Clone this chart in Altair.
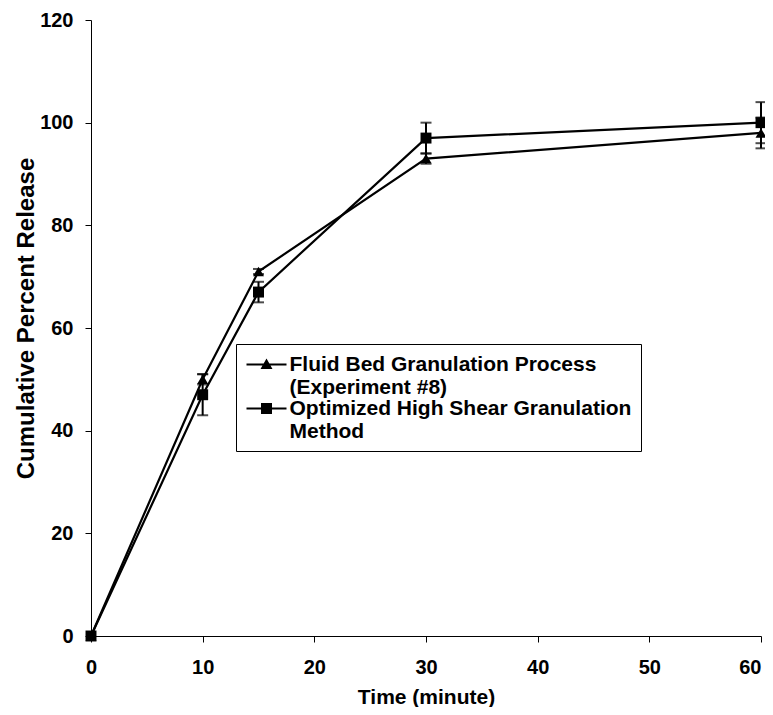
import altair as alt
import pandas as pd

time = [0, 10, 15, 30, 60]
fluid = [0, 50, 71, 93, 98]
fluid_err = [0, 1, 0.5, 1, 3]
shear = [0, 47, 67, 97, 100]
shear_err = [0, 4, 2, 3, 4]
series_names = ["Fluid Bed Granulation Process|(Experiment #8)",
                "Optimized High Shear Granulation|Method"]

rows = []
for t, v, e in zip(time, fluid, fluid_err):
    rows.append({"t": t, "v": v, "lo": v - e, "hi": v + e, "e": e, "s": series_names[0]})
for t, v, e in zip(time, shear, shear_err):
    rows.append({"t": t, "v": v, "lo": v - e, "hi": v + e, "e": e, "s": series_names[1]})
df = pd.DataFrame(rows)

FONT = "Liberation Sans"

x = alt.X("t:Q", scale=alt.Scale(domain=[0, 60], nice=False),
          axis=alt.Axis(values=[0, 10, 20, 30, 40, 50, 60], title="Time (minute)",
                        labelFlush=False,
                        labelAlign={"condition": {"test": "datum.value == 60", "value": "right"},
                                    "value": "center"}))
y = alt.Y("v:Q", scale=alt.Scale(domain=[0, 120], nice=False),
          axis=alt.Axis(values=[0, 20, 40, 60, 80, 100, 120], title="Cumulative Percent Release",
                        titleY=298))

base = alt.Chart(df)

lines = base.mark_line(color="black", strokeWidth=2.2).encode(
    x=x, y=y, detail="s:N")

err = base.transform_filter("datum.e > 0")
rules = err.mark_rule(color="black", strokeWidth=2).encode(
    x="t:Q", y="lo:Q", y2="hi:Q")
caps_hi = err.mark_tick(color="black", orient="horizontal", size=11, thickness=2).encode(
    x="t:Q", y="hi:Q")
caps_lo = err.mark_tick(color="black", orient="horizontal", size=11, thickness=2).encode(
    x="t:Q", y="lo:Q")

points = base.mark_point(filled=True, color="black", size=120, opacity=1).encode(
    x="t:Q", y="v:Q",
    shape=alt.Shape("s:N", scale=alt.Scale(domain=series_names, range=["triangle-up", "square"]),
                    legend=None))

tri_path = "M-1,-0.1H3V0.1H-1ZM0.4,0.45L1,-0.6L1.6,0.45Z"
sq_path = "M-1,-0.1H3V0.1H-1ZM0.45,-0.55H1.55V0.55H0.45Z"

legend_layer = base.transform_filter("false").mark_point(
    filled=True, color="black", opacity=1).encode(
    x="t:Q", y="v:Q",
    shape=alt.Shape("s:N", scale=alt.Scale(domain=series_names, range=[tri_path, sq_path]),
                    legend=alt.Legend(
                        title=None, orient="none", legendX=145, legendY=324,
                        labelExpr="split(datum.label, '|')",
                        labelFont=FONT, labelFontSize=21, labelFontWeight="bold",
                        labelColor="black", labelLimit=500, labelOffset=22,
                        symbolSize=400, symbolFillColor="black",
                        symbolOpacity=1,
                        strokeColor="black", padding=9.5, rowPadding=0,
                        fillColor="white")))

chart = alt.layer(lines, rules, caps_hi, caps_lo, points, legend_layer).resolve_scale(
    shape="independent"
).properties(
    width=670, height=616,
    autosize=alt.AutoSizeParams(type="none"),
    padding={"left": 83, "top": 12, "right": 4, "bottom": 71},
).configure_view(stroke=None).configure_axis(
    grid=False, domainColor="black", domainWidth=1, tickColor="black", tickWidth=1,
    tickSize=6, labelFont=FONT, labelFontSize=20, labelFontWeight="bold",
    labelColor="black", titleFont=FONT, titleFontWeight="bold",
    titleColor="black",
).configure_axisY(labelPadding=12, titlePadding=1, titleFontSize=24
).configure_axisX(labelPadding=15, titlePadding=9, titleFontSize=21)

chart.save("out.html", embed_options={"renderer": "svg", "actions": False})
